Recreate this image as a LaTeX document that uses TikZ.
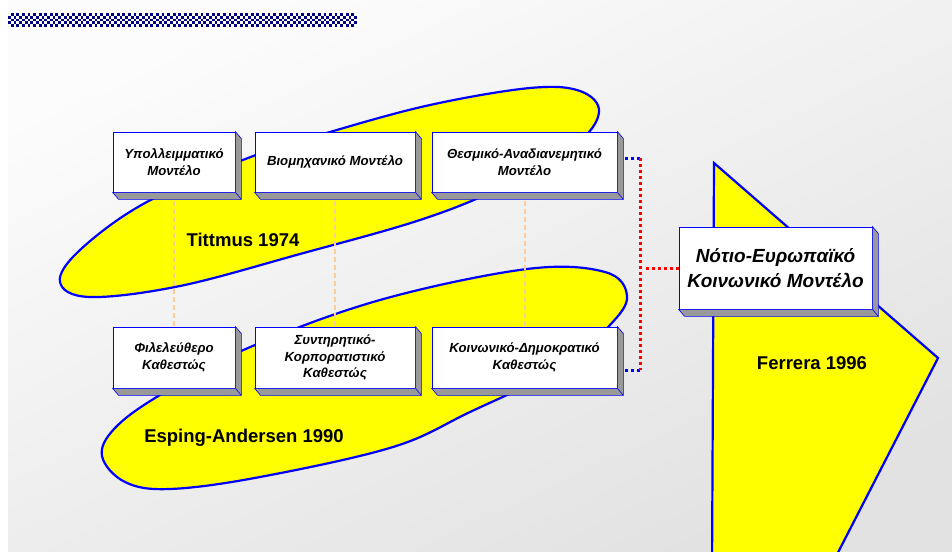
\documentclass[tikz,border=0pt]{standalone}
\usepackage{fontspec}
\setmainfont{Liberation Sans}

\definecolor{navy}{RGB}{0,0,128}
\definecolor{blobyellow}{RGB}{255,255,0}
\definecolor{sidegray}{RGB}{153,153,153}
\definecolor{peach}{RGB}{255,204,153}
\definecolor{bgtop}{RGB}{252,252,252}
\definecolor{bgbottom}{RGB}{226,226,226}

\tikzset{
  modelbox/.style={draw=blue, fill=white, line width=0.8pt, align=center,
    font=\fontsize{13.2}{16.8}\selectfont\bfseries\itshape,
    minimum height=60pt, inner sep=2pt},
  blob/.style={draw=blue, fill=blobyellow, line width=2.2pt},
  yearlabel/.style={font=\fontsize{18.5}{20}\selectfont\bfseries},
  peachline/.style={draw=peach, line width=2pt, dash pattern=on 5pt off 3pt},
  bluedots/.style={draw=blue, line width=3pt, dash pattern=on 3pt off 3pt},
  reddots/.style={draw=red, line width=3pt, dash pattern=on 3pt off 3pt},
}

% gray side and bottom of a box
\newcommand{\boxdepth}[1]{%
  \filldraw[fill=sidegray, draw=blue, line width=0.6pt] (#1.north east) -- ++(6,7)
    -- ([shift={(6,7)}]#1.south east) -- ([shift={(6,7)}]#1.south west)
    -- (#1.south west) -- (#1.south east) -- cycle;
  \draw[blue, line width=0.6pt] (#1.south east) -- ++(6,7);}

\begin{document}
\begin{tikzpicture}[x=1pt, y=-1pt]

\useasboundingbox (0,0) rectangle (952,551);
\fill[white] (0,0) rectangle (952,551);
\shade[top color=bgtop, bottom color=bgbottom, shading angle=25] (8,0) rectangle (952,551);

% checkered bar
\fill[navy] (8,13) rectangle (357,27);
\foreach \i in {0,...,124}{
  \foreach \j in {0,...,4}{
    \ifodd\numexpr\i+\j\relax\else
      \fill[white] ({8+2.792*\i},{13+2.8*\j}) rectangle ++(2.792,2.8);
    \fi}}

% blobs and arrow
\draw[blob] plot[smooth cycle, tension=0.6] coordinates {(60,282) (90,297) (180,286)
  (300,254) (420,220) (500,188) (575,145) (599,112) (580,91) (530,88) (430,105)
  (330,132) (248,158) (145,203) (80,250)};
\draw[blob] plot[smooth cycle, tension=0.6] coordinates {(102,456) (125,482) (170,489)
  (260,477) (393,447) (470,412) (560,368) (610,325) (627,296) (605,272) (527,269)
  (380,300) (248,348) (160,395) (115,428)};
\begin{scope}
\clip (8,0) rectangle (952,551);
\draw[blob] (712,570) -- (714,163) -- (938,358) -- (829,570);
\end{scope}

\node[yearlabel] (tittmus) at (243,240) {Tittmus 1974};
\node[yearlabel] (esping) at (244,438) {Esping-Andersen 1990};
\node[yearlabel] (ferrera) at (812,363) {Ferrera 1996};

% models
\node[modelbox, minimum width=122pt] (resid) at (174,162) {Υπολλειμματικό\\Μοντέλο};
\node[modelbox, minimum width=160pt] (indust) at (335,162) {Βιομηχανικό Μοντέλο};
\node[modelbox, minimum width=185pt] (instit) at (524.5,162) {Θεσμικό-Αναδιανεμητικό\\Μοντέλο};
\node[modelbox, minimum width=122pt, minimum height=61pt] (liberal) at (174,357.5) {Φιλελεύθερο\\Καθεστώς};
\node[modelbox, minimum width=160pt, minimum height=61pt] (corpor) at (335,357.5) {Συντηρητικό-\\Κορπορατιστικό\\Καθεστώς};
\node[modelbox, minimum width=185pt, minimum height=61pt] (socdem) at (524.5,357.5) {Κοινωνικό-Δημοκρατικό\\Καθεστώς};
\node[modelbox, minimum width=193pt, minimum height=82pt,
  font=\fontsize{19}{25}\selectfont\bfseries\itshape] (south) at (775.5,268) {Νότιο-Ευρωπαϊκό\\Κοινωνικό Μοντέλο};

\foreach \b in {resid,indust,instit,liberal,corpor,socdem,south}{\boxdepth{\b}}

% links
\draw[peachline] ([yshift=-9pt]resid.south) -- (liberal.north);
\draw[peachline] ([yshift=-9pt]indust.south) -- (corpor.north);
\draw[peachline] ([yshift=-9pt]instit.south) -- (socdem.north);

\coordinate (topjoin) at (640,158);
\coordinate (botjoin) at (640,370);
\coordinate (midjoin) at (646,268);
\draw[bluedots] ([xshift=8pt,yshift=4pt]instit.east) -- (topjoin);
\draw[bluedots] ([xshift=8pt,yshift=-12.5pt]socdem.east) -- (botjoin);
\draw[reddots] (topjoin) -- (botjoin);
\draw[reddots] (midjoin) -- (south.west);

\end{tikzpicture}
\end{document}
